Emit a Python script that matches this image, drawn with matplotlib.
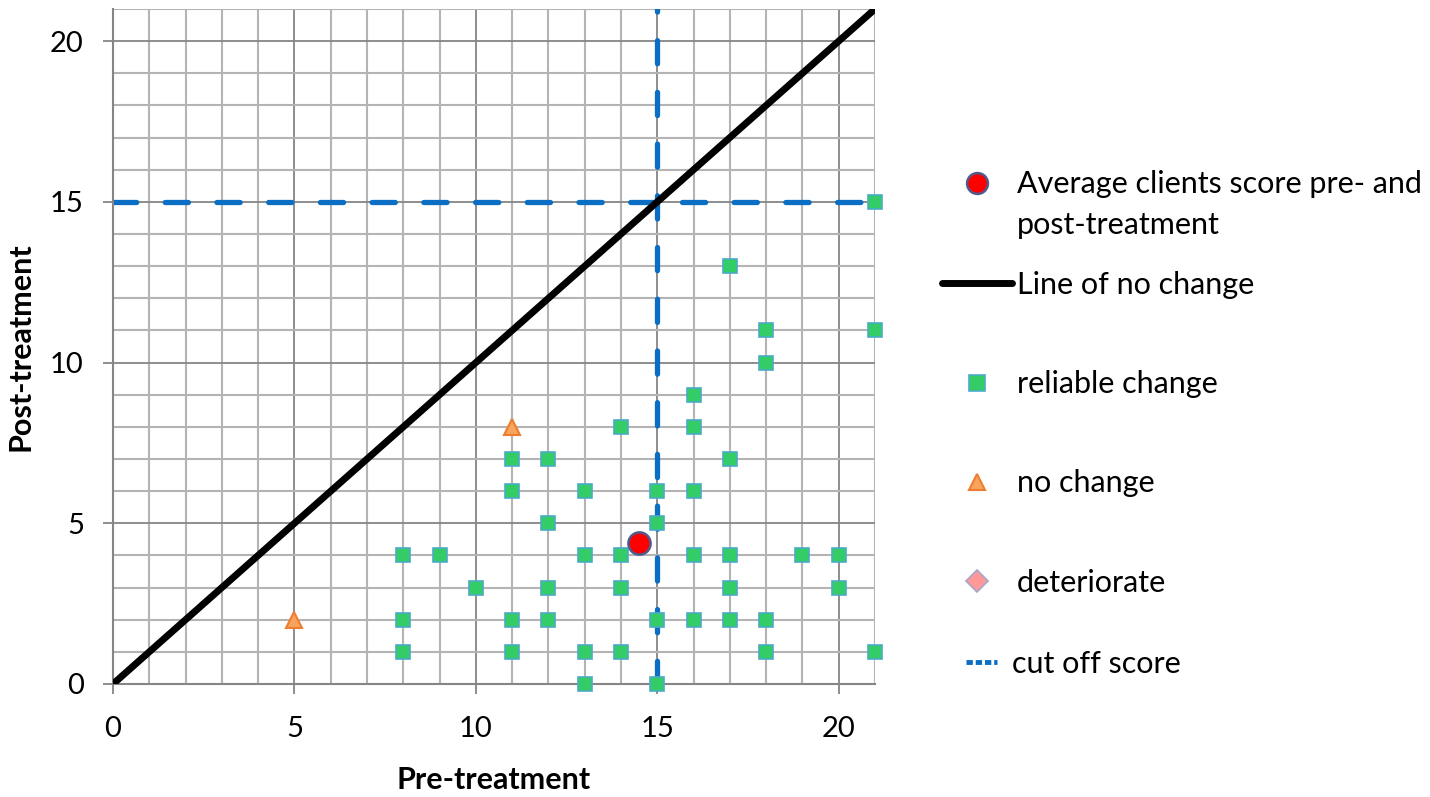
import matplotlib.pyplot as plt
from matplotlib.lines import Line2D
from matplotlib.legend_handler import HandlerLine2D
import numpy as np

plt.rcParams['font.family'] = ['Lato', 'DejaVu Sans']

# reliable change clients (pre, post)
reliable_pre = [21, 17, 18, 21, 18, 16, 14, 16, 11, 12, 17, 11, 13, 15, 16, 12, 15,
                8, 9, 13, 14, 16, 17, 19, 20, 10, 12, 14, 17, 20,
                8, 11, 12, 15, 16, 17, 18, 8, 11, 13, 14, 18, 21, 13, 15]
reliable_post = [15, 13, 11, 11, 10, 9, 8, 8, 7, 7, 7, 6, 6, 6, 6, 5, 5,
                 4, 4, 4, 4, 4, 4, 4, 4, 3, 3, 3, 3, 3,
                 2, 2, 2, 2, 2, 2, 2, 1, 1, 1, 1, 1, 1, 0, 0]

# no change clients
nochange_pre = [11, 5]
nochange_post = [8, 2]

# deteriorate: none
det_pre = []
det_post = []

# average score
avg_pre = [14.5]
avg_post = [4.4]

cutoff = 15
axis_max = 21


class HandlerShifted(HandlerLine2D):
    # moves the legend marker up so it sits on the first text line
    def __init__(self, dy, **kw):
        super().__init__(**kw)
        self.dy = dy

    def create_artists(self, legend, orig_handle, xdescent, ydescent, width,
                       height, fontsize, trans):
        arts = super().create_artists(legend, orig_handle, xdescent, ydescent,
                                      width, height, fontsize, trans)
        for a in arts:
            a.set_ydata(np.asarray(a.get_ydata()) + self.dy * fontsize)
        return arts


fig = plt.figure(figsize=(14.3, 7.97), dpi=100)
ax = fig.add_axes([113 / 1430, 113 / 797, 762 / 1430, 675 / 797])

ax.set_xlim(0, axis_max)
ax.set_ylim(0, axis_max)
ax.set_xticks([0, 5, 10, 15, 20])
ax.set_yticks([0, 5, 10, 15, 20])
ax.set_xticks(np.arange(0, axis_max + 1, 1), minor=True)
ax.set_yticks(np.arange(0, axis_max + 1, 1), minor=True)
ax.grid(which='minor', color='#b4b4b4', linewidth=1.5, zorder=0)
ax.grid(which='major', color='#858585', linewidth=1.3, zorder=0)
ax.set_axisbelow(True)
for s in ['top', 'right']:
    ax.spines[s].set_visible(False)
for s in ['left', 'bottom']:
    ax.spines[s].set_color('#858585')
    ax.spines[s].set_linewidth(1.5)
ax.tick_params(which='minor', length=0)
ax.tick_params(axis='x', which='major', length=7, width=1.3, color='#858585',
               labelsize=21, pad=16)
ax.tick_params(axis='y', which='major', length=7, width=1.3, color='#858585',
               labelsize=21, pad=14)

# cut off score lines
ax.axhline(cutoff, color='#0a6ec4', linewidth=3.8, dashes=(4.4, 5.4),
           dash_capstyle='round', zorder=2)
ax.axvline(cutoff, color='#0a6ec4', linewidth=3.8, dashes=(4.4, 5.4),
           dash_capstyle='round', zorder=2)

# line of no change
ax.plot([0, axis_max], [0, axis_max], color='black', linewidth=5,
        solid_capstyle='butt', zorder=3)

ax.plot(reliable_pre, reliable_post, linestyle='none', marker='s', markersize=10,
        markerfacecolor='#33cc66', markeredgecolor='#4bacc6', markeredgewidth=1.2,
        zorder=4, clip_on=False)
ax.plot(nochange_pre, nochange_post, linestyle='none', marker='^', markersize=11,
        markerfacecolor='#f8a45c', markeredgecolor='#ed7d31', markeredgewidth=1.5,
        zorder=4, clip_on=False)
ax.plot(det_pre, det_post, linestyle='none', marker='D', markersize=10,
        markerfacecolor='#ff9999', markeredgecolor='#a6a6c8', zorder=4)
ax.plot(avg_pre, avg_post, linestyle='none', marker='o', markersize=16,
        markerfacecolor='#ff0000', markeredgecolor='#4f5b8c', markeredgewidth=1.8,
        zorder=5, clip_on=False)

ax.set_xlabel('Pre-treatment', fontsize=22, fontweight='bold', labelpad=17)
ax.set_ylabel('Post-treatment', fontsize=22, fontweight='bold', labelpad=11)

# legend
h_avg = Line2D([], [], linestyle='none', marker='o', markersize=15,
               markerfacecolor='#ff0000', markeredgecolor='#4f5b8c', markeredgewidth=1.8)
h_line = Line2D([], [], color='black', linewidth=5, solid_capstyle='round')
h_rel = Line2D([], [], linestyle='none', marker='s', markersize=11,
               markerfacecolor='#33cc66', markeredgecolor='#4bacc6', markeredgewidth=1.2)
h_no = Line2D([], [], linestyle='none', marker='^', markersize=12,
              markerfacecolor='#f8a45c', markeredgecolor='#ed7d31', markeredgewidth=1.5)
h_det = Line2D([], [], linestyle='none', marker='D', markersize=11,
               markerfacecolor='#ff9999', markeredgecolor='#a6a6c8', markeredgewidth=1.2)
h_cut = Line2D([], [], color='#0a6ec4', linewidth=3.5, dashes=(1.3, 0.6))

leg_common = dict(loc='upper left', frameon=False, fontsize=22,
                  borderpad=0, borderaxespad=0)

leg0 = fig.legend([h_avg], ['Average clients score pre- and\npost-treatment'],
                  bbox_to_anchor=(942 / 1430, 1 - 170 / 797),
                  handlelength=2.3, handletextpad=0.15,
                  handler_map={h_avg: HandlerShifted(0.72)}, **leg_common)
for t in leg0.get_texts():
    t.set_linespacing(1.55)
leg1 = fig.legend([h_line, h_rel, h_no, h_det],
                  ['Line of no change', 'reliable change', 'no change', 'deteriorate'],
                  bbox_to_anchor=(942 / 1430, 1 - 271 / 797),
                  handlelength=2.3, handletextpad=0.15, labelspacing=2.33,
                  **leg_common)
leg2 = fig.legend([h_cut], ['cut off score'],
                  bbox_to_anchor=(966 / 1430, 1 - 650 / 797),
                  handlelength=1.0, handletextpad=0.5, **leg_common)

fig.savefig('out.png', dpi=100)
